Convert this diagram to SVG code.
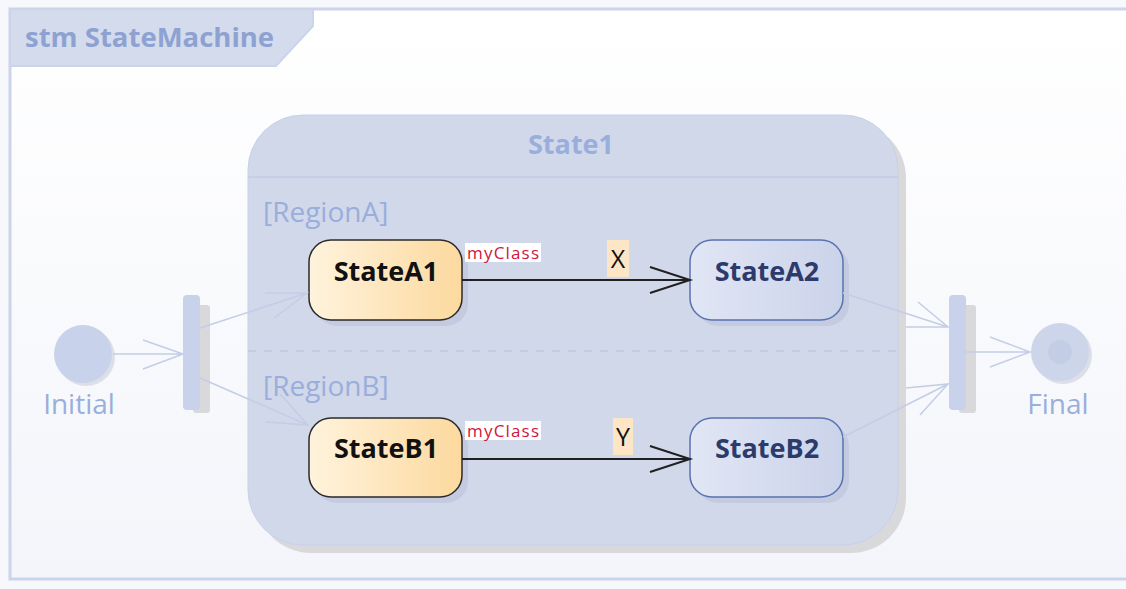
<svg xmlns="http://www.w3.org/2000/svg" width="1126" height="589" viewBox="0 0 1126 589">
<defs>
<linearGradient id="bg" x1="0" y1="0" x2="0" y2="1"><stop offset="0" stop-color="#ffffff"/><stop offset="1" stop-color="#f3f5fa"/></linearGradient>
<linearGradient id="warm" x1="0" y1="0" x2="1" y2="0"><stop offset="0" stop-color="#fff3dd"/><stop offset="1" stop-color="#fcd99e"/></linearGradient>
<linearGradient id="cool" x1="0" y1="0" x2="1" y2="0"><stop offset="0" stop-color="#e1e6f5"/><stop offset="1" stop-color="#cbd3ea"/></linearGradient>
<style>
.lbl{font-family:"Open Sans","Liberation Sans",sans-serif;}
.pale{fill:#9aaedc;}
.bar{fill:#c8d2ea;}
.shadow{fill:#d9d9dc;}
.conn{stroke:#c3cde6;stroke-width:1.5;fill:none;}
.trans{stroke:#202020;stroke-width:2;fill:none;}
.sname{font-family:"Open Sans","Liberation Sans",sans-serif;font-weight:bold;font-size:27px;text-anchor:middle;}
</style>
</defs>
<rect x="0" y="0" width="1126" height="589" fill="#f7f8fb"/>
<g id="frame">
<rect x="10" y="9" width="1130" height="570" fill="url(#bg)" stroke="#cbd4ea" stroke-width="3"/>
<path d="M10 9 H313 V26 L276 66 H10 Z" fill="#d4dbec" stroke="#cbd4ea" stroke-width="2"/>
<text x="25" y="47" class="lbl" font-weight="bold" font-size="27.5" fill="#8ea2d2">stm StateMachine</text>
</g>
<g id="State1">
<rect x="256" y="123" width="650" height="430" rx="55" class="shadow"/>
<rect x="248" y="115" width="650" height="430" rx="55" fill="#d0d8ea" stroke="#c8d1e8" stroke-width="1"/>
<line x1="248" y1="177" x2="898" y2="177" stroke="#c2cce4" stroke-width="1.5"/>
<line x1="248" y1="351" x2="898" y2="351" stroke="#c2cce4" stroke-width="2" stroke-dasharray="8,8"/>
<text x="571" y="154" class="lbl pale" font-weight="bold" font-size="27" text-anchor="middle">State1</text>
<text x="263" y="222" class="lbl pale" font-size="28">[RegionA]</text>
<text x="263" y="396" class="lbl pale" font-size="28">[RegionB]</text>
</g>
<g id="Initial">
<circle cx="86" cy="357" r="29" fill="#dcdfe8"/>
<circle cx="83" cy="354" r="29" class="bar"/>
<text x="79" y="414" class="lbl pale" font-size="28" text-anchor="middle">Initial</text>
</g>
<g id="Fork">
<rect x="193" y="305" width="17" height="108" rx="3" class="shadow"/>
<rect x="183" y="295" width="17" height="115" rx="4" class="bar"/>
</g>
<g id="Join">
<rect x="959" y="305" width="17" height="108" rx="3" class="shadow"/>
<rect x="949" y="295" width="17" height="115" rx="4" class="bar"/>
</g>
<g id="Final">
<circle cx="1063" cy="355" r="29" fill="#dcdfe8"/>
<circle cx="1060" cy="352" r="29" fill="#ccd5ea"/>
<circle cx="1060" cy="352" r="12" fill="#c3cde6"/>
<text x="1058" y="414" class="lbl pale" font-size="28" text-anchor="middle">Final</text>
</g>
<g id="StateA1">
<rect x="315" y="246" width="153" height="80" rx="22" fill="#c4cbe0"/>
<rect x="309" y="240" width="153" height="80" rx="22" fill="url(#warm)" stroke="#2a2a2a" stroke-width="1.5"/>
<text x="386" y="281" class="sname" fill="#111">StateA1</text>
</g>
<g id="StateB1">
<rect x="315" y="424" width="153" height="79" rx="22" fill="#c4cbe0"/>
<rect x="309" y="418" width="153" height="79" rx="22" fill="url(#warm)" stroke="#2a2a2a" stroke-width="1.5"/>
<text x="386" y="458" class="sname" fill="#111">StateB1</text>
</g>
<g id="StateA2">
<rect x="696" y="246" width="153" height="80" rx="22" fill="#c4cbe0"/>
<rect x="690" y="240" width="153" height="80" rx="22" fill="url(#cool)" stroke="#5a72b0" stroke-width="1.5"/>
<text x="767" y="281" class="sname" fill="#2c3b6b">StateA2</text>
</g>
<g id="StateB2">
<rect x="696" y="424" width="153" height="79" rx="22" fill="#c4cbe0"/>
<rect x="690" y="418" width="153" height="79" rx="22" fill="url(#cool)" stroke="#5a72b0" stroke-width="1.5"/>
<text x="767" y="458" class="sname" fill="#2c3b6b">StateB2</text>
</g>
<g id="connectors">
<path class="conn" d="M113 354 H183 M143 340 L183 354 L143 369"/>
<path class="conn" d="M200 328 L307 293 M265 293 L307 293 L274 318"/>
<path class="conn" d="M200 378 L308 425 M266 422 L308 425 L280 394"/>
<path class="conn" d="M843 293 L948 327 M906 327 L948 327 L918 302"/>
<path class="conn" d="M843 437 L948 384 M906 388 L948 384 L920 415"/>
<path class="conn" d="M966 352 H1030 M990 337 L1030 352 L990 367"/>
<path class="trans" d="M462 280 H690 M650 267 L690 280 L650 293"/>
<path class="trans" d="M462 459 H690 M650 446 L690 459 L650 472" stroke="#404040"/>
<rect x="465" y="243" width="76" height="19" fill="#ffffff"/>
<text x="467" y="259" class="lbl" font-size="17" textLength="72" fill="#d0143c">myClass</text>
<rect x="607" y="240" width="22" height="37" fill="#fde6c6"/>
<text x="618" y="268" class="lbl" font-size="25" fill="#111" text-anchor="middle">X</text>
<rect x="465" y="421" width="76" height="19" fill="#ffffff"/>
<text x="467" y="437" class="lbl" font-size="17" textLength="72" fill="#d0143c">myClass</text>
<rect x="613" y="418" width="20" height="37" fill="#fde6c6"/>
<text x="623" y="446" class="lbl" font-size="25" fill="#111" text-anchor="middle">Y</text>
</g>
</svg>
